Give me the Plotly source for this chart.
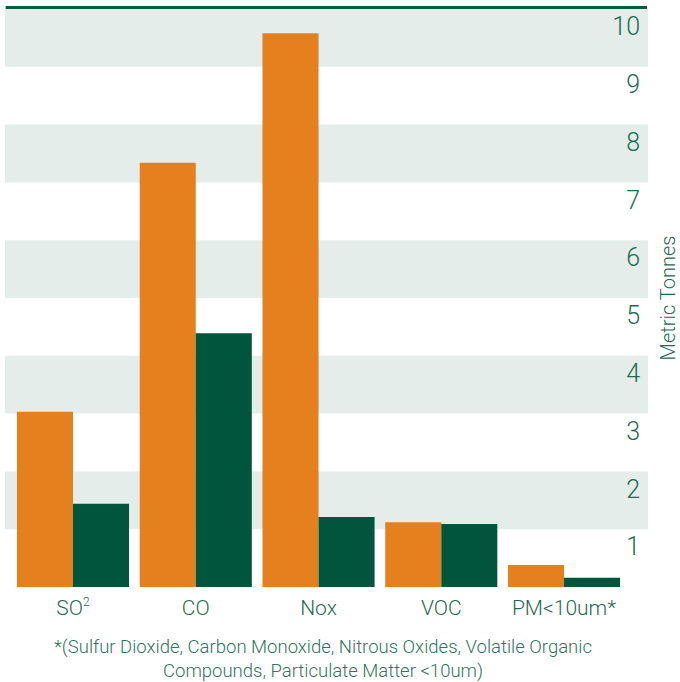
import plotly.graph_objects as go

categories = ["SO<sup><span style='font-size:12px'>2</span></sup>", "CO", "Nox", "VOC", "PM&lt;10um*"]
series_a = [3.03, 7.34, 9.58, 1.12, 0.38]   # orange series
series_b = [1.44, 4.39, 1.21, 1.09, 0.16]   # green series
tick_values = [1, 2, 3, 4, 5, 6, 7, 8, 9, 10]
tick_labels = [str(v) for v in tick_values]

ORANGE = "#E4801E"
GREEN = "#01553D"
BAND = "#E4EDEA"
TEXT = "#1F6A52"
FONT = "Roboto"

x_idx = list(range(len(categories)))

fig = go.Figure()
fig.add_trace(go.Bar(x=x_idx, y=series_a, marker=dict(color=ORANGE, line=dict(width=0)),
                     name="A", showlegend=False))
fig.add_trace(go.Bar(x=x_idx, y=series_b, marker=dict(color=GREEN, line=dict(width=0)),
                     name="B", showlegend=False))

# alternating horizontal bands, one per unit
for k in range(1, 10, 2):
    fig.add_shape(type="rect", xref="paper", yref="y", x0=0, x1=1, y0=k, y1=k + 1,
                  fillcolor=BAND, line=dict(width=0), layer="below")

# heavy rule along the top
fig.add_shape(type="line", xref="paper", yref="paper", x0=0.001, x1=0.9985,
              y0=1.0028, y1=1.0028, line=dict(color="#0B5A40", width=3))

fig.update_layout(
    width=680, height=682,
    margin=dict(l=5, r=32, t=9, b=95),
    paper_bgcolor="white", plot_bgcolor="white",
    barmode="group", bargap=0.087, bargroupgap=0,
    font=dict(family=FONT, color=TEXT, weight=300),
    xaxis=dict(
        range=[-0.554, 4.684], tickmode="array", tickvals=x_idx, ticktext=categories,
        showgrid=False, zeroline=False, showline=False, ticks="", automargin=False,
        tickfont=dict(size=21, family=FONT, color=TEXT, weight=300),
        ticklabelstandoff=6,
    ),
    yaxis=dict(
        range=[0, 10], side="right", tickmode="array", tickvals=tick_values, ticktext=tick_labels,
        ticklabelposition="inside bottom", ticks="", ticklabelstandoff=5, automargin=False,
        showgrid=False, zeroline=False, showline=False,
        tickfont=dict(size=25, family=FONT, color=TEXT, weight=300),
        title=dict(text="Metric Tonnes", font=dict(size=20, family=FONT, color=TEXT, weight=300),
                   standoff=22),
    ),
)

fig.add_annotation(
    xref="paper", yref="paper", x=0.494, y=-0.082, xanchor="center", yanchor="top",
    text="*(Sulfur Dioxide, Carbon Monoxide, Nitrous Oxides, Volatile Organic<br>"
         "Compounds, Particulate Matter &lt;10um)",
    showarrow=False, align="center",
    font=dict(size=18.5, family=FONT, color="#2E7560", weight=300),
)

fig.write_html("out.html")
